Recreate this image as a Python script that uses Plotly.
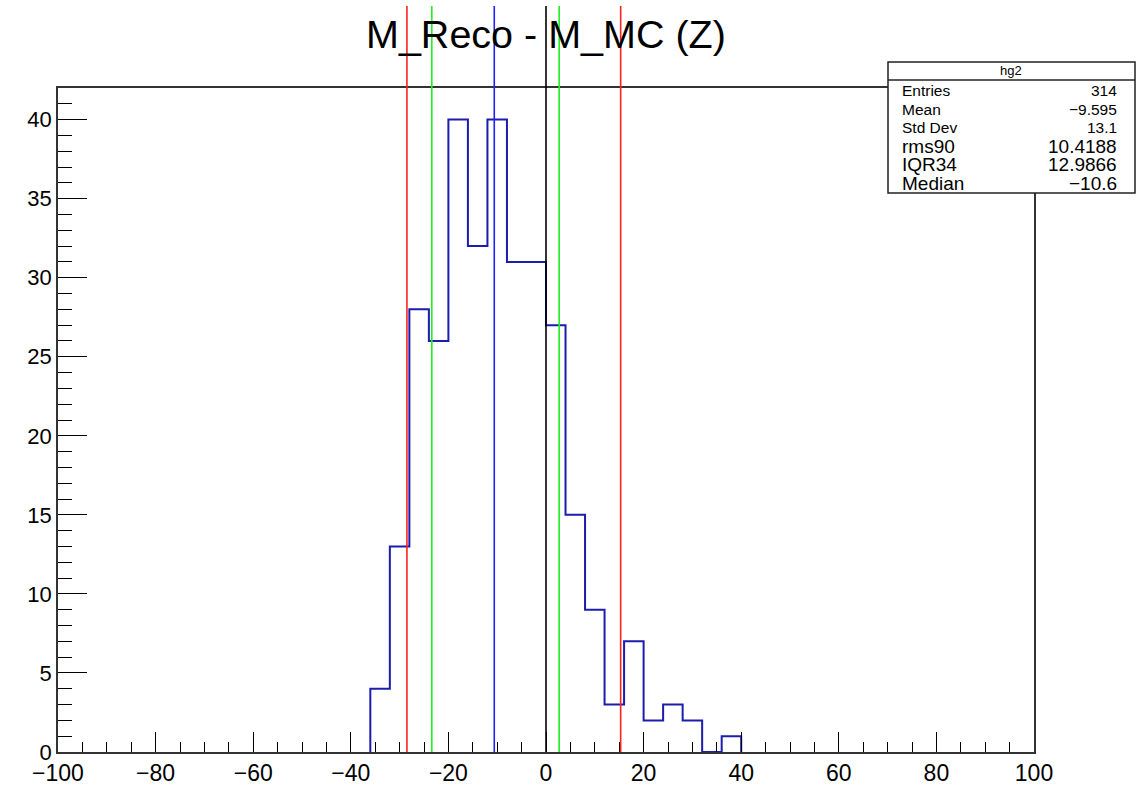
import plotly.graph_objects as go

# ---- data ----
bin_edges = [-36, -32, -28, -24, -20, -16, -12, -8, -4, 0, 4, 8, 12, 16, 20, 24, 28, 32, 36, 40]
counts = [4, 13, 28, 26, 40, 32, 40, 31, 31, 27, 15, 9, 3, 7, 2, 3, 2, 0, 1]

vline_x = [-28.5, -23.4, -10.6, 0.0, 2.7, 15.3]
vline_colors = ["#ff2020", "#20f020", "#2020ff", "#000000", "#20f020", "#ff2020"]

stat_names = ["Entries", "Mean", "Std Dev", "rms90", "IQR34", "Median"]
stat_values = ["314", "\u22129.595", "13.1", "10.4188", "12.9866", "\u221210.6"]
stat_sizes = [15.5, 15.5, 15.5, 19, 19, 19]
stat_title = "hg2"
title_text = "M_Reco - M_MC (Z)"

x_range = [-100, 100]
y_range = [0, 42]

# ---- layout geometry (pixels) ----
W, H = 1137, 787
L, R, T, B = 58, 103, 88, 35
pw = W - L - R
ph = H - T - B


def px(xp):
    return (xp - L) / pw


def py(yp):
    return (H - B - yp) / ph


FONT = "Liberation Sans, Arial, Helvetica, sans-serif"

fig = go.Figure()

xs = [bin_edges[0]] + bin_edges
ys = [0] + counts + [0]
fig.add_trace(go.Scatter(x=xs, y=ys, mode="lines", line_shape="hv",
                         line=dict(color="#1c1cae", width=2), hoverinfo="skip",
                         showlegend=False))

shapes = []
for xv, c in zip(vline_x, vline_colors):
    shapes.append(dict(type="line", xref="x", yref="paper", x0=xv, x1=xv,
                       y0=0, y1=py(6), line=dict(color=c, width=1.6), layer="above"))

# stats box
bx0, bx1, by0, by1, bdiv = 888, 1135, 62, 193, 80
shapes.append(dict(type="rect", xref="paper", yref="paper", x0=px(bx0), x1=px(bx1),
                   y0=py(by1), y1=py(by0), fillcolor="white",
                   line=dict(color="#222", width=1.5), layer="above"))
shapes.append(dict(type="line", xref="paper", yref="paper", x0=px(bx0), x1=px(bx1),
                   y0=py(bdiv), y1=py(bdiv), line=dict(color="#222", width=1.5), layer="above"))

annotations = []
annotations.append(dict(text=title_text, xref="paper", yref="paper", x=0.5, y=py(34),
                        xanchor="center", yanchor="middle", showarrow=False,
                        font=dict(family=FONT, size=39.5, color="black")))
annotations.append(dict(text=stat_title, xref="paper", yref="paper", x=px(1011), y=py(71),
                        xanchor="center", yanchor="middle", showarrow=False,
                        font=dict(family=FONT, size=13, color="black")))
row_y = [90, 110, 128, 146, 164, 183]
for name, val, sz, yy in zip(stat_names, stat_values, stat_sizes, row_y):
    annotations.append(dict(text=name, xref="paper", yref="paper", x=px(900), y=py(yy),
                            xanchor="left", yanchor="middle", showarrow=False,
                            font=dict(family=FONT, size=sz, color="black")))
    annotations.append(dict(text=val, xref="paper", yref="paper", x=px(1119), y=py(yy),
                            xanchor="right", yanchor="middle", showarrow=False,
                            font=dict(family=FONT, size=sz, color="black")))

fig.update_layout(
    width=W, height=H,
    margin=dict(l=L, r=R, t=T, b=B, pad=0, autoexpand=False),
    paper_bgcolor="white", plot_bgcolor="white",
    shapes=shapes, annotations=annotations,
    font=dict(family=FONT, color="black"),
    xaxis=dict(range=x_range, dtick=20, tick0=-100, ticks="inside", ticklen=20,
               tickwidth=1, tickcolor="black", showgrid=False, zeroline=False,
               showline=True, linecolor="#333", linewidth=1.5, mirror=True,
               automargin=False,
               tickfont=dict(family=FONT, size=23, color="black"),
               minor=dict(dtick=5, ticks="inside", ticklen=10, tickcolor="black", tickwidth=1,
                          showgrid=False)),
    yaxis=dict(range=y_range, dtick=5, tick0=0, ticks="inside", ticklen=29,
               tickwidth=1, tickcolor="black", showgrid=False, zeroline=False,
               showline=True, linecolor="#333", linewidth=1.5, mirror=True,
               automargin=False,
               tickfont=dict(family=FONT, size=22, color="black"),
               minor=dict(dtick=1, ticks="inside", ticklen=14, tickcolor="black", tickwidth=1,
                          showgrid=False)),
)

fig.write_html("out.html")
